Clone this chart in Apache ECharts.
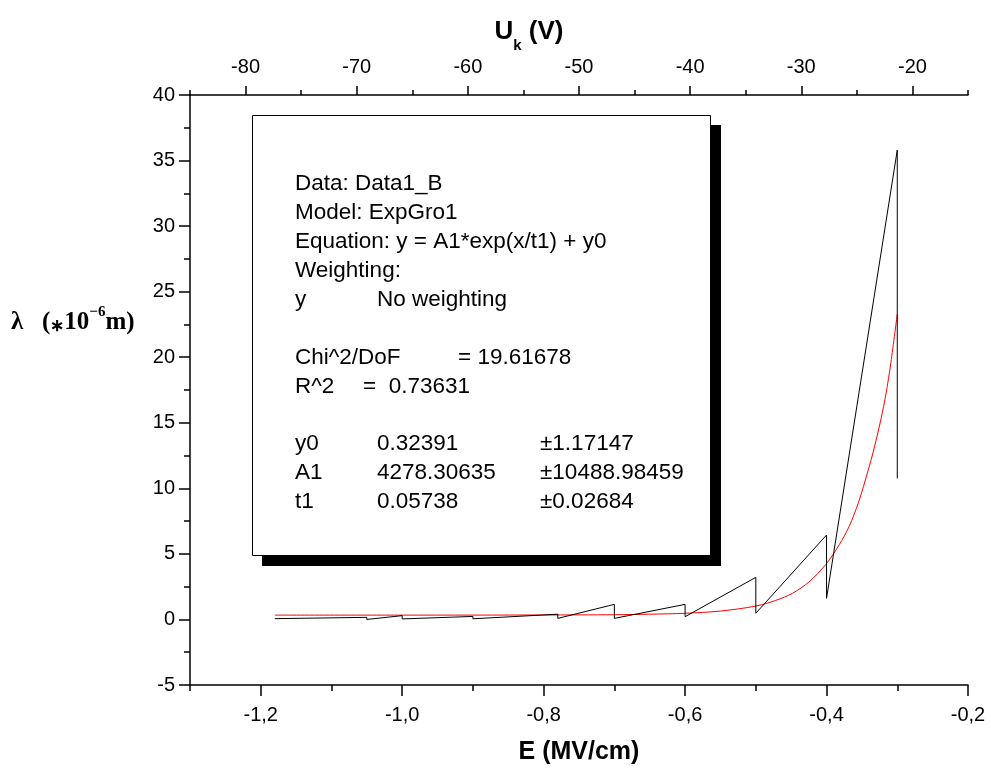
<!DOCTYPE html>
<html><head><meta charset="utf-8">
<script src="https://cdn.jsdelivr.net/npm/echarts@6/dist/echarts.min.js"></script>
<style>html,body{margin:0;padding:0;background:#fff}#c{width:991px;height:776px}</style>
</head><body><div id="c"></div>
<script>
// measured data (black line)
const measuredE = [-1.18, -1.05, -1.05, -1.0, -1.0, -0.9, -0.9, -0.78, -0.78, -0.7, -0.7, -0.6, -0.6, -0.5, -0.5, -0.4, -0.4, -0.3, -0.3];
const measuredL = [0.06, 0.16, 0.0, 0.29, 0.04, 0.23, 0.05, 0.40, 0.08, 1.15, 0.08, 1.15, 0.21, 3.21, 0.47, 6.44, 1.61, 35.8, 10.76];
// fitted curve (red)
const fitE = [-1.18, -1.0, -0.8, -0.7, -0.65, -0.6, -0.55, -0.5, -0.472, -0.448, -0.425, -0.401, -0.382, -0.368, -0.355, -0.341, -0.333, -0.323, -0.316, -0.309, -0.30];
const fitL = [0.33, 0.33, 0.34, 0.36, 0.40, 0.47, 0.64, 1.02, 1.45, 2.0, 2.85, 4.2, 5.7, 7.1, 8.9, 11.4, 13.0, 15.3, 17.2, 19.6, 23.3];
// ticks
const eMajorTicks = [-1.2, -1.0, -0.8, -0.6, -0.4, -0.2];
const eMinorTicks = [-1.3, -1.1, -0.9, -0.7, -0.5, -0.3];
const uMajorTicks = [-80, -70, -60, -50, -40, -30, -20];
const uMinorTicks = [-85, -75, -65, -55, -45, -35, -25, -15];
// fit report text: [line index, column texts]
const reportRows = [
  [0, ['Data: Data1_B']],
  [1, ['Model: ExpGro1']],
  [2, ['Equation: y = A1*exp(x/t1) + y0']],
  [3, ['Weighting:']],
  [4, ['y', 'No weighting']],
  [6, ['Chi^2/DoF', '', '= 19.61678']],
  [7, ['R^2', '=  0.73631']],
  [9, ['y0', '0.32391', '±1.17147']],
  [10, ['A1', '4278.30635', '±10488.98459']],
  [11, ['t1', '0.05738', '±0.02684']]
];

const SANS = "'Liberation Sans', Arial, sans-serif";
const SERIF = "'Liberation Serif', 'Times New Roman', serif";

const chart = echarts.init(document.getElementById('c'));

function lbl(v) { return v.toFixed(1).replace('.', ','); }

const colX = [295, 377, 458];
const colXrow = { 7: [295, 363], 9: [295, 377, 540], 10: [295, 377, 540], 11: [295, 377, 540] };
const graphics = [
  { type: 'rect', shape: { x: 262, y: 125, width: 459, height: 441 }, style: { fill: '#000' }, z: 10 },
  { type: 'rect', shape: { x: 252.5, y: 115.5, width: 458, height: 440 }, style: { fill: '#fff', stroke: '#000', lineWidth: 1 }, z: 11 }
];
reportRows.forEach(([i, cols]) => {
  const xs = colXrow[i] || colX;
  cols.forEach((t, c) => {
    if (!t) return;
    graphics.push({ type: 'text', z: 12, x: xs[c], y: 184 + i * 28.9,
      style: { text: t, font: '22.5px ' + SANS, fill: '#000', verticalAlign: 'middle', align: 'left' } });
  });
});
// top axis title
graphics.push({ type: 'text', z: 12, x: 529, y: 30, style: {
  text: '{b|U}{k|k}{b| (V)}', align: 'center', verticalAlign: 'middle',
  rich: { b: { fontFamily: SANS, fontWeight: 'bold', fontSize: 26, lineHeight: 30, verticalAlign: 'bottom' },
          k: { fontFamily: SANS, fontWeight: 'bold', fontSize: 15, lineHeight: 15, verticalAlign: 'bottom', padding: [0, 0, -8, 0] } } } });
// y axis title
graphics.push({ type: 'text', z: 12, x: 11, y: 320, style: {
  text: '{l|λ}{p|   (}{a|∗}{p|10}{s|−6}{p|m)}', align: 'left', verticalAlign: 'middle',
  rich: { l: { fontFamily: SERIF, fontWeight: 'bold', fontSize: 25, lineHeight: 30, verticalAlign: 'bottom' },
          p: { fontFamily: SERIF, fontWeight: 'bold', fontSize: 25, lineHeight: 30, verticalAlign: 'bottom' },
          a: { fontFamily: SANS, fontWeight: 'bold', fontSize: 17, lineHeight: 24, verticalAlign: 'bottom' },
          s: { fontFamily: SERIF, fontWeight: 'bold', fontSize: 15, lineHeight: 15, verticalAlign: 'top' } } } });

const axisLineStyle = { color: '#000', width: 1.5 };
const tickStyle = { color: '#000', width: 1.5 };

chart.setOption({
  animation: false,
  backgroundColor: '#fff',
  grid: { left: 190, right: 23, top: 95, bottom: 91, containLabel: false },
  xAxis: [
    { type: 'value', position: 'bottom', min: -1.3, max: -0.2,
      name: 'E (MV/cm)', nameLocation: 'middle', nameGap: 55,
      nameTextStyle: { fontFamily: SANS, fontWeight: 'bold', fontSize: 25, color: '#000' },
      axisLine: { onZero: false, lineStyle: axisLineStyle },
      axisTick: { show: true, inside: false, length: 11, lineStyle: tickStyle, customValues: eMajorTicks },
      axisLabel: { color: '#000', fontFamily: SANS, fontSize: 20, margin: 20, customValues: eMajorTicks, formatter: lbl },
      splitLine: { show: false } },
    { type: 'value', position: 'bottom', min: -1.3, max: -0.2,
      axisLine: { show: false, onZero: false },
      axisTick: { show: true, inside: false, length: 6, lineStyle: tickStyle, customValues: eMinorTicks },
      axisLabel: { show: false }, splitLine: { show: false } },
    { type: 'value', position: 'top', min: -85, max: -15,
      axisLine: { onZero: false, lineStyle: axisLineStyle },
      axisTick: { show: true, inside: false, length: 9, lineStyle: tickStyle, customValues: uMajorTicks },
      axisLabel: { color: '#000', fontFamily: SANS, fontSize: 20, margin: 18, customValues: uMajorTicks, formatter: v => String(v) },
      splitLine: { show: false } },
    { type: 'value', position: 'top', min: -85, max: -15,
      axisLine: { show: false, onZero: false },
      axisTick: { show: true, inside: false, length: 5, lineStyle: tickStyle, customValues: uMinorTicks },
      axisLabel: { show: false }, splitLine: { show: false } }
  ],
  yAxis: [
    { type: 'value', position: 'left', min: -5, max: 40, interval: 5,
      axisLine: { show: true, onZero: false, lineStyle: axisLineStyle },
      axisTick: { show: true, inside: false, length: 11, lineStyle: tickStyle },
      minorTick: { show: true, splitNumber: 2, length: 6, lineStyle: tickStyle },
      axisLabel: { color: '#000', fontFamily: SANS, fontSize: 20, margin: 15 },
      splitLine: { show: false } }
  ],
  series: [
    { type: 'line', xAxisIndex: 0, yAxisIndex: 0, showSymbol: false, symbol: 'none',
      lineStyle: { color: '#ff0000', width: 1 }, smooth: 0.3,
      data: fitE.map((e, i) => [e, fitL[i]]), z: 3 },
    { type: 'line', xAxisIndex: 0, yAxisIndex: 0, showSymbol: false, symbol: 'none',
      lineStyle: { color: '#000', width: 1 },
      data: measuredE.map((e, i) => [e, measuredL[i]]), z: 4 }
  ],
  graphic: graphics
});
</script></body></html>
